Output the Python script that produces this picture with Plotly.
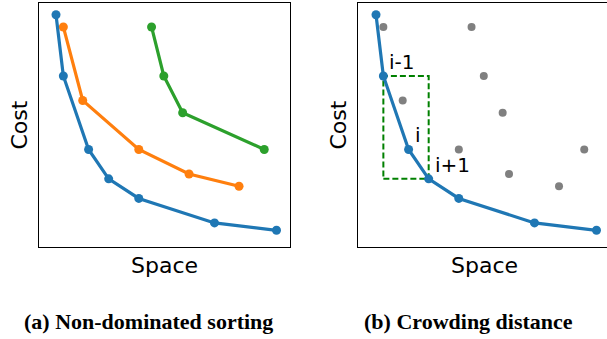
import plotly.graph_objects as go

# ---- data ----
blue_x = [1.0, 1.3, 2.33, 3.15, 4.38, 7.47, 10.0]
blue_y = [10.0, 7.5, 4.5, 3.3, 2.5, 1.5, 1.2]
orange_x = [1.3, 2.09, 4.38, 6.43, 8.47]
orange_y = [9.5, 6.5, 4.5, 3.5, 3.0]
green_x = [4.9, 5.4, 6.17, 9.5]
green_y = [9.5, 7.5, 6.0, 4.5]
crowd_labels = ["i-1", "i", "i+1"]
crowd_index = [1, 2, 3]
x_label = "Space"
y_label = "Cost"
captions = ["(a) Non-dominated sorting", "(b) Crowding distance"]

W, H = 607, 339
BLUE, ORANGE, GREEN, GRAY = "#1f77b4", "#ff7f0e", "#2ca02c", "#808080"

def px(x):
    return x / W

def py(y):
    return 1 - y / H

fig = go.Figure()

def line_trace(x, y, color, xa, ya):
    return go.Scatter(x=x, y=y, mode="lines+markers", xaxis=xa, yaxis=ya,
                      line=dict(color=color, width=3.2),
                      marker=dict(color=color, size=9), showlegend=False,
                      hoverinfo="skip")

# left panel
fig.add_trace(line_trace(green_x, green_y, GREEN, "x", "y"))
fig.add_trace(line_trace(orange_x, orange_y, ORANGE, "x", "y"))
fig.add_trace(line_trace(blue_x, blue_y, BLUE, "x", "y"))

# right panel
fig.add_trace(go.Scatter(x=orange_x + green_x, y=orange_y + green_y, mode="markers",
                         xaxis="x2", yaxis="y2", marker=dict(color=GRAY, size=8),
                         showlegend=False, hoverinfo="skip"))
fig.add_trace(line_trace(blue_x, blue_y, BLUE, "x2", "y2"))

i0, i2 = crowd_index[0], crowd_index[-1]
fig.add_shape(type="rect", xref="x2", yref="y2",
              x0=blue_x[i0], x1=blue_x[i2], y0=blue_y[i2], y1=blue_y[i0],
              line=dict(color="#008000", width=2, dash="6px,3px"), layer="below")

annotations = []
for lab, idx in zip(crowd_labels, crowd_index):
    annotations.append(dict(x=blue_x[idx], y=blue_y[idx], xref="x2", yref="y2",
                            text=lab, showarrow=False, xanchor="left", yanchor="bottom",
                            xshift=4, yshift=0,
                            font=dict(family="DejaVu Sans", size=20, color="black")))

ydom = [py(247), py(3)]
left_dom = [px(39), px(290)]
right_dom = [px(358), 1.0]
for cx in (164.3, 484.0):
    annotations.append(dict(x=px(cx), y=py(250.6), xref="paper", yref="paper", text=x_label,
                            showarrow=False, xanchor="center", yanchor="top",
                            font=dict(family="DejaVu Sans", size=22, color="black")))
for cx in (19, 338):
    annotations.append(dict(x=px(cx), y=py(125.5), xref="paper", yref="paper", text=y_label,
                            showarrow=False, xanchor="center", yanchor="middle", textangle=-90,
                            font=dict(family="DejaVu Sans", size=22, color="black")))
for cap, cx in zip(captions, [148.3, 468]):
    annotations.append(dict(x=px(cx), y=py(307.4), xref="paper", yref="paper",
                            text="<b>" + cap + "</b>", showarrow=False,
                            xanchor="center", yanchor="top",
                            font=dict(family="Liberation Serif", size=22, color="black")))

axis_common = dict(showgrid=False, zeroline=False, showticklabels=False, ticks="",
                   showline=True, linecolor="black", linewidth=1.3, fixedrange=True)

fig.update_layout(
    width=W, height=H, margin=dict(l=0, r=0, t=0, b=0),
    paper_bgcolor="white", plot_bgcolor="white",
    xaxis=dict(domain=left_dom, range=[0.306, 10.551], mirror=True, anchor="y", **axis_common),
    yaxis=dict(domain=ydom, range=[0.518, 10.478], mirror=True, anchor="x", **axis_common),
    xaxis2=dict(domain=right_dom, range=[0.265, 10.429], mirror=True, anchor="y2", **axis_common),
    yaxis2=dict(domain=ydom, range=[0.518, 10.478], mirror=False, anchor="x2", **axis_common),
    annotations=annotations,
)

fig.write_html("out.html", post_script="document.body.style.margin='0';",
               config={"displayModeBar": False})
